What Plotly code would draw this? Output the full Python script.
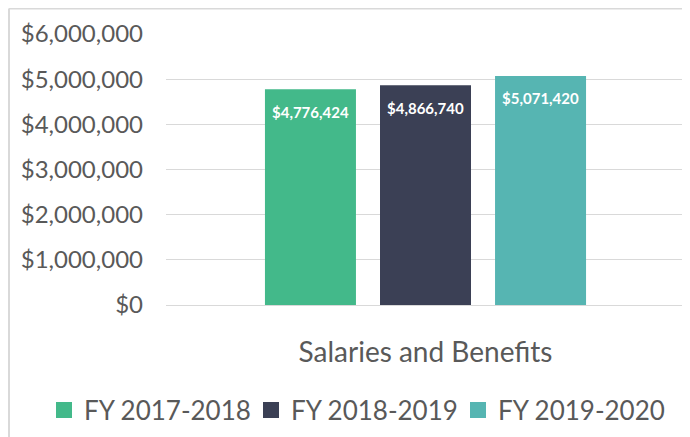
import plotly.graph_objects as go

category = ["Salaries and Benefits"]
series_names = ["FY 2017-2018", "FY 2018-2019", "FY 2019-2020"]
series_values = [[4776424], [4866740], [5071420]]
colors = ["#43B98A", "#3B4055", "#56B5B2"]
y_ticks = [0, 1000000, 2000000, 3000000, 4000000, 5000000, 6000000]
y_tick_labels = ["$0", "$1,000,000", "$2,000,000", "$3,000,000", "$4,000,000", "$5,000,000", "$6,000,000"]

FONT = "Lato"
GRAY = "#595959"

fig = go.Figure()
for name, vals, col in zip(series_names, series_values, colors):
    fig.add_trace(go.Bar(
        x=category, y=vals, name=name, showlegend=False,
        marker=dict(color=col, line=dict(width=0)),
        texttemplate="&nbsp;<br><span style='font-size:15px'>%{y:$,.0f}</span>",
        textposition="inside", insidetextanchor="end",
        textfont=dict(family=FONT, size=11, color="white", weight="bold"),
        textangle=0,
        hoverinfo="skip",
    ))
# legend-only entries with larger square swatches
for name, col in zip(series_names, colors):
    fig.add_trace(go.Scatter(
        x=[None], y=[None], name=name, mode="markers",
        marker=dict(symbol="square", size=16, color=col),
        hoverinfo="skip",
    ))

# the page body has an 8px margin, so the figure sits 8px right/down in the window
W, H = 682, 429
L, R, T, B = 158, 5, 26, 132
pw = W - L - R
ph = H - T - B

def px_to_paper_x(px):
    return (px - L) / pw

def px_to_paper_y(py):
    return (H - B - py) / ph

fig.update_layout(
    width=W, height=H,
    margin=dict(l=L, r=R, t=T, b=B, autoexpand=False),
    paper_bgcolor="white", plot_bgcolor="white",
    barmode="group", bargap=0.335, bargroupgap=0.209,
    font=dict(family=FONT, color=GRAY),
    showlegend=True,
    legend=dict(
        orientation="h", xref="paper", x=px_to_paper_x(36), xanchor="left",
        yref="paper", y=px_to_paper_y(402), yanchor="middle",
        font=dict(family=FONT, size=26, color=GRAY),
        itemsizing="trace", traceorder="normal", entrywidth=162,
    ),
    xaxis=dict(
        showgrid=False, showline=False, zeroline=False,
        tickfont=dict(family=FONT, size=28, color=GRAY),
        ticks="", ticklabelstandoff=28,
    ),
    yaxis=dict(
        range=[0, 6000000], tickvals=y_ticks, ticktext=y_tick_labels,
        showgrid=True, gridcolor="#D9D9D9", gridwidth=1,
        zeroline=True, zerolinecolor="#D9D9D9", zerolinewidth=1,
        showline=False, ticks="", ticklabelstandoff=22,
        tickfont=dict(family=FONT, size=24, color=GRAY),
    ),
    shapes=[
        dict(type="line", xref="paper", yref="paper",
             x0=px_to_paper_x(1), x1=px_to_paper_x(W + 2), y0=px_to_paper_y(0.5), y1=px_to_paper_y(0.5),
             line=dict(color="#D9D9D9", width=2)),
        dict(type="line", xref="paper", yref="paper",
             x0=px_to_paper_x(1), x1=px_to_paper_x(1), y0=px_to_paper_y(0.5), y1=px_to_paper_y(H + 2),
             line=dict(color="#D9D9D9", width=2)),
    ],
)

fig.write_html("out.html")
